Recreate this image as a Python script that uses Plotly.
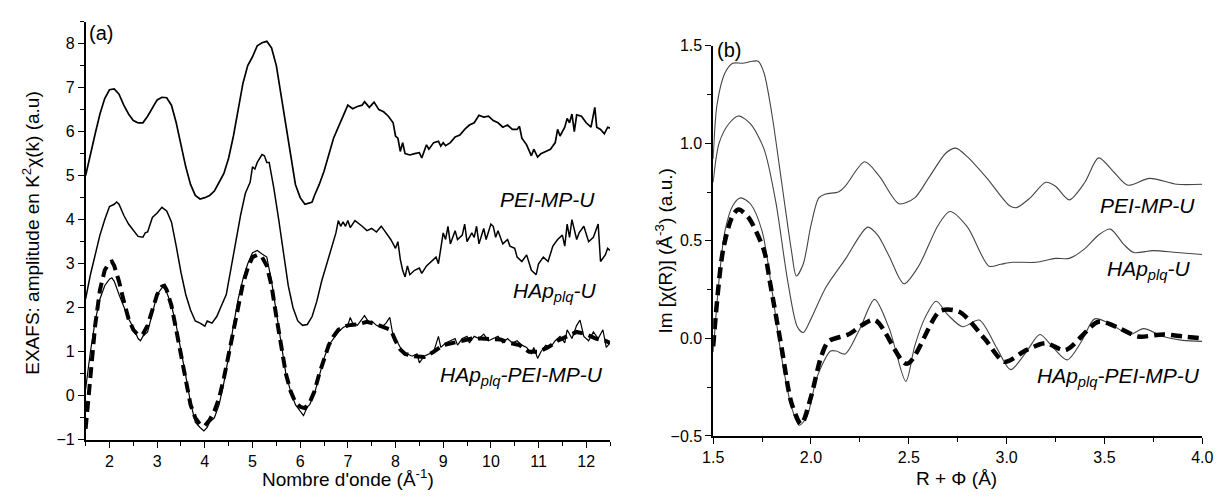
import plotly.graph_objects as go

# ---------------- k-space EXAFS, panel (a) ----------------
k_pei = [1.5, 1.6, 1.7, 1.8, 1.9, 2.0, 2.1, 2.2, 2.3, 2.4, 2.5, 2.6, 2.7, 2.8, 2.9, 3.0, 3.1, 3.2, 3.3, 3.4,
         3.5, 3.6, 3.7, 3.8, 3.9, 4.0, 4.1, 4.2, 4.3, 4.4, 4.5, 4.6, 4.7, 4.8, 4.9, 5.0, 5.1, 5.2, 5.3, 5.4,
         5.5, 5.6, 5.7, 5.8, 5.9, 6.0, 6.1, 6.2, 6.25, 6.3, 6.4, 6.5, 6.6, 6.7, 6.8, 6.9, 7.0, 7.1, 7.2, 7.3,
         7.35, 7.45, 7.55, 7.65, 7.75, 7.85, 7.95, 8.0, 8.05, 8.1, 8.15, 8.2, 8.3, 8.4, 8.5, 8.55, 8.65, 8.7,
         8.8, 8.9, 8.95, 9.0, 9.05, 9.15, 9.25, 9.35, 9.45, 9.55, 9.65, 9.75, 9.85, 9.95, 10.05, 10.15, 10.25,
         10.35, 10.45, 10.55, 10.6, 10.65, 10.75, 10.85, 10.9, 10.98, 11.05, 11.15, 11.25, 11.35, 11.4, 11.45,
         11.55, 11.6, 11.65, 11.7, 11.75, 11.8, 11.9, 12.0, 12.05, 12.1, 12.18, 12.22, 12.3, 12.38, 12.45, 12.5]
chi_pei = [5.0, 5.5, 5.95, 6.4, 6.75, 6.95, 6.97, 6.85, 6.6, 6.4, 6.25, 6.2, 6.2, 6.35, 6.55, 6.72, 6.78, 6.77, 6.6, 6.2,
           5.7, 5.2, 4.8, 4.55, 4.47, 4.5, 4.55, 4.65, 4.85, 5.05, 5.4, 5.9, 6.5, 7.1, 7.5, 7.7, 7.95, 8.02, 8.05, 7.9,
           7.5, 6.8, 6.1, 5.4, 4.8, 4.5, 4.35, 4.38, 4.4, 4.55, 4.8, 5.1, 5.5, 5.85, 6.1, 6.35, 6.6, 6.52, 6.57, 6.6,
           6.68, 6.55, 6.67, 6.5, 6.45, 6.35, 6.2, 5.9, 5.85, 5.55, 5.75, 5.5, 5.47, 5.5, 5.52, 5.4, 5.7, 5.6,
           5.75, 5.78, 5.67, 5.75, 5.68, 5.75, 5.88, 5.92, 6.05, 6.15, 6.2, 6.37, 6.33, 6.35, 6.25, 6.2, 6.1,
           6.15, 6.05, 6.05, 6.12, 5.85, 5.7, 5.45, 5.6, 5.42, 5.5, 5.55, 5.6, 5.75, 6.05, 5.9,
           6.1, 6.3, 6.2, 6.4, 6.0, 6.38, 6.35, 6.2, 6.15, 6.1, 6.55, 6.1, 6.05, 5.95, 6.1, 6.08]

k_hap = [1.5, 1.6, 1.7, 1.8, 1.9, 2.0, 2.1, 2.15, 2.2, 2.3, 2.4, 2.5, 2.6, 2.7, 2.75, 2.8, 2.9, 3.0, 3.1, 3.2,
         3.3, 3.4, 3.5, 3.6, 3.7, 3.8, 3.9, 4.0, 4.05, 4.15, 4.25, 4.35, 4.45, 4.55, 4.65, 4.75, 4.85, 4.95, 5.0,
         5.05, 5.1, 5.2, 5.25, 5.3, 5.35, 5.45, 5.55, 5.65, 5.75, 5.85, 5.95, 6.05, 6.15, 6.25, 6.35, 6.45, 6.55,
         6.65, 6.75, 6.8, 6.85, 6.9, 6.95, 7.0, 7.05, 7.15, 7.25, 7.3, 7.4, 7.5, 7.6, 7.7, 7.75, 7.8, 7.9, 8.0,
         8.05, 8.1, 8.15, 8.2, 8.25, 8.3, 8.4, 8.5, 8.55, 8.65, 8.75, 8.85, 8.9, 8.95, 9.0, 9.05, 9.1, 9.15,
         9.25, 9.3, 9.4, 9.45, 9.5, 9.6, 9.65, 9.7, 9.75, 9.85, 9.9, 10.0, 10.05, 10.1, 10.15, 10.25, 10.35,
         10.4, 10.5, 10.55, 10.65, 10.75, 10.85, 10.95, 11.0, 11.1, 11.2, 11.3, 11.4, 11.5, 11.55, 11.6, 11.65,
         11.7, 11.8, 11.85, 11.95, 12.05, 12.15, 12.25, 12.3, 12.4, 12.45, 12.5]
chi_hap = [2.2, 2.75, 3.2, 3.65, 4.0, 4.3, 4.35, 4.4, 4.35, 4.1, 3.9, 3.75, 3.62, 3.6, 3.7, 3.72, 4.05, 4.15, 4.28, 4.2,
           3.95, 3.4, 2.8, 2.3, 1.95, 1.7, 1.65, 1.58, 1.7, 1.65, 1.8, 2.05, 2.3, 2.9, 3.5, 4.1, 4.6, 4.85, 5.2,
           5.15, 5.3, 5.48, 5.45, 5.3, 5.3, 4.7, 4.0, 3.2, 2.5, 2.0, 1.7, 1.6, 1.62, 1.8, 2.15, 2.6, 2.95,
           3.35, 3.7, 3.98, 3.85, 3.95, 3.85, 3.98, 3.82, 3.98, 3.9, 3.85, 3.75, 3.8, 3.72, 3.85, 3.78, 3.7, 3.55, 3.35,
           3.5, 3.1, 2.85, 2.7, 2.95, 2.75, 2.85, 2.9, 2.78, 2.95, 3.05, 3.15, 3.0, 3.4, 3.7, 3.55, 3.85, 3.45,
           3.75, 3.55, 3.65, 3.9, 3.5, 3.7, 3.6, 3.85, 3.45, 3.8, 3.55, 3.9, 3.85, 3.6, 3.75, 3.45, 3.55,
           3.4, 3.35, 3.15, 3.05, 3.2, 2.85, 2.75, 3.0, 3.15, 3.05, 3.4, 3.55, 3.65, 3.4, 3.9, 3.6,
           4.0, 3.55, 3.7, 3.85, 3.5, 3.6, 3.9, 3.05, 3.2, 3.35, 3.3]

k_mix = [1.5, 1.6, 1.7, 1.8, 1.9, 2.0, 2.05, 2.1, 2.2, 2.3, 2.4, 2.5, 2.6, 2.65, 2.7, 2.8, 2.9, 3.0, 3.1, 3.15,
         3.2, 3.3, 3.4, 3.5, 3.6, 3.7, 3.8, 3.9, 3.98, 4.05, 4.1, 4.2, 4.3, 4.4, 4.5, 4.6, 4.7, 4.8, 4.9, 5.0,
         5.1, 5.2, 5.3, 5.4, 5.5, 5.6, 5.7, 5.8, 5.9, 6.0, 6.07, 6.15, 6.2, 6.3, 6.4, 6.5, 6.6, 6.7, 6.8, 6.9,
         7.0, 7.05, 7.1, 7.2, 7.3, 7.35, 7.45, 7.5, 7.6, 7.7, 7.8, 7.88, 7.95, 8.05, 8.15, 8.25, 8.35, 8.45,
         8.5, 8.6, 8.7, 8.8, 8.9, 8.95, 9.05, 9.15, 9.25, 9.3, 9.4, 9.5, 9.55, 9.65, 9.75, 9.85, 9.95, 10.05,
         10.15, 10.25, 10.35, 10.45, 10.55, 10.65, 10.75, 10.85, 10.9, 10.98, 11.05, 11.15, 11.25, 11.35,
         11.45, 11.55, 11.6, 11.7, 11.8, 11.87, 11.95, 12.05, 12.15, 12.25, 12.35, 12.42, 12.5]
chi_mix = [0.15, 1.0, 1.7, 2.2, 2.5, 2.65, 2.68, 2.6, 2.3, 2.0, 1.75, 1.55, 1.3, 1.25, 1.35, 1.45, 1.9, 2.3, 2.45, 2.5,
           2.35, 2.05, 1.6, 1.05, 0.45, -0.15, -0.6, -0.72, -0.8, -0.72, -0.6, -0.5, -0.2, 0.3, 0.9, 1.6, 2.2, 2.65, 3.0, 3.25,
           3.3, 3.22, 3.15, 2.6, 1.9, 1.1, 0.5, 0.1, -0.2, -0.35, -0.45, -0.25, -0.2, 0.05, 0.45, 0.85, 1.15, 1.3, 1.45, 1.55,
           1.6, 1.78, 1.65, 1.6, 1.75, 1.82, 1.65, 1.7, 1.6, 1.55, 1.65, 1.78, 1.35, 1.2, 1.0, 0.95, 0.9, 0.95,
           0.75, 0.9, 0.95, 1.0, 1.35, 1.1, 1.2, 1.25, 1.3, 1.15, 1.3, 1.35, 1.2, 1.35, 1.3, 1.4, 1.25, 1.3,
           1.35, 1.2, 1.3, 1.2, 1.25, 1.15, 1.1, 0.95, 1.1, 0.85, 1.0, 1.15, 1.1, 1.25,
           1.35, 1.2, 1.5, 1.3, 1.6, 1.72, 1.35, 1.25, 1.45, 1.3, 1.5, 1.1, 1.2]

k_fit = [1.5, 1.6, 1.7, 1.8, 1.9, 2.0, 2.05, 2.1, 2.2, 2.3, 2.4, 2.5, 2.6, 2.7, 2.8, 2.9, 3.0, 3.1, 3.15, 3.2,
         3.3, 3.4, 3.5, 3.6, 3.7, 3.8, 3.9, 4.0, 4.1, 4.2, 4.3, 4.4, 4.5, 4.6, 4.7, 4.8, 4.9, 5.0, 5.1, 5.2,
         5.3, 5.4, 5.5, 5.6, 5.7, 5.8, 5.9, 6.0, 6.1, 6.2, 6.3, 6.4, 6.5, 6.6, 6.7, 6.8, 6.9, 7.0, 7.2, 7.4,
         7.6, 7.8, 7.9, 8.0, 8.1, 8.2, 8.4, 8.6, 8.8, 9.0, 9.2, 9.4, 9.6, 9.8, 10.0, 10.2, 10.4, 10.6, 10.8,
         11.0, 11.2, 11.4, 11.6, 11.8, 12.0, 12.2, 12.4, 12.5]
chi_fit = [-0.75, 0.5, 1.6, 2.4, 2.85, 3.03, 3.05, 2.95, 2.6, 2.15, 1.75, 1.5, 1.38, 1.4, 1.6, 1.95, 2.3, 2.48, 2.5, 2.4,
           2.05, 1.5, 0.9, 0.3, -0.2, -0.5, -0.65, -0.68, -0.55, -0.35, -0.05, 0.4, 0.95, 1.55, 2.1, 2.55, 2.9, 3.15, 3.2, 3.15,
           2.95, 2.5, 1.8, 1.1, 0.5, 0.1, -0.15, -0.25, -0.28, -0.15, 0.1, 0.5, 0.85, 1.15, 1.35, 1.5, 1.55, 1.6, 1.62, 1.68,
           1.62, 1.55, 1.5, 1.25, 1.05, 0.95, 0.9, 0.88, 1.0, 1.15, 1.2, 1.25, 1.3, 1.3, 1.3, 1.28, 1.2, 1.15, 1.0,
           1.0, 1.1, 1.25, 1.35, 1.45, 1.4, 1.3, 1.25, 1.2]

# ---------------- Fourier transform (imaginary part), panel (b) ----------------
r_pei = [1.5, 1.52, 1.56, 1.6, 1.65, 1.7, 1.73, 1.76, 1.8, 1.85, 1.9, 1.925, 1.96, 2.0, 2.04, 2.075, 2.14,
         2.175, 2.275, 2.35, 2.45, 2.53, 2.6, 2.69, 2.74, 2.8, 2.9, 3.015, 3.05, 3.12, 3.2, 3.25, 3.32, 3.4,
         3.47, 3.55, 3.62, 3.73, 3.87, 4.0]
im_pei = [0.92, 1.2, 1.36, 1.41, 1.41, 1.42, 1.42, 1.36, 1.15, 0.8, 0.45, 0.32, 0.38, 0.58, 0.72, 0.74, 0.75,
          0.78, 0.905, 0.83, 0.69, 0.72, 0.82, 0.95, 0.975, 0.93, 0.82, 0.68, 0.67, 0.72, 0.8, 0.78, 0.71, 0.8,
          0.925, 0.85, 0.785, 0.82, 0.79, 0.79]

r_hap = [1.5, 1.53, 1.58, 1.63, 1.69, 1.76, 1.82, 1.88, 1.93, 1.96, 2.0, 2.075, 2.175, 2.29, 2.34, 2.4, 2.475,
         2.55, 2.65, 2.71, 2.8, 2.91, 2.97, 3.03, 3.15, 3.25, 3.32, 3.4, 3.47, 3.53, 3.6, 3.65, 3.75, 3.87, 4.0]
im_hap = [0.8, 1.0, 1.1, 1.14, 1.1, 0.97, 0.7, 0.3, 0.06, 0.03, 0.1, 0.26, 0.405, 0.57, 0.53, 0.42, 0.28,
          0.37, 0.58, 0.65, 0.57, 0.37, 0.38, 0.39, 0.39, 0.41, 0.41, 0.46, 0.53, 0.56, 0.48, 0.44, 0.45, 0.44, 0.43]

r_mix = [1.5, 1.53, 1.56, 1.6, 1.64, 1.69, 1.75, 1.8, 1.85, 1.9, 1.94, 1.98, 2.03, 2.1, 2.13, 2.175, 2.25,
         2.325, 2.4, 2.485, 2.53, 2.58, 2.64, 2.7, 2.775, 2.86, 2.95, 3.02, 3.1, 3.17, 3.24, 3.31, 3.38, 3.45,
         3.52, 3.63, 3.7, 3.8, 3.9, 4.0]
im_mix = [-0.07, 0.3, 0.55, 0.68, 0.72, 0.69, 0.55, 0.25, -0.1, -0.35, -0.445, -0.4, -0.2, -0.065, -0.065, -0.08, 0.05,
          0.2, 0.05, -0.22, -0.04, 0.1, 0.19, 0.12, 0.06, 0.094, -0.05, -0.16, -0.07, 0.02, -0.05, -0.11, -0.02, 0.1,
          0.08, 0.02, 0.05, 0.01, -0.01, -0.015]

r_fit = [1.5, 1.55, 1.6, 1.63, 1.68, 1.76, 1.79, 1.85, 1.9, 1.95, 2.0, 2.05, 2.09, 2.19, 2.325, 2.49, 2.66,
         2.76, 2.89, 2.99, 3.1, 3.2, 3.3, 3.47, 3.58, 3.67, 3.8, 3.9, 4.0]
im_fit = [-0.04, 0.45, 0.63, 0.66, 0.62, 0.45, 0.29, -0.05, -0.33, -0.44, -0.3, -0.1, -0.015, 0.02, 0.094, -0.13, 0.14,
          0.135, -0.005, -0.12, -0.06, -0.025, -0.06, 0.085, 0.05, 0.01, 0.02, 0.01, 0.0]

FONT = "Liberation Sans, Arial, sans-serif"
W, H = 1227, 501

fig = go.Figure()

# panel (a) traces
fig.add_trace(go.Scatter(x=k_pei, y=chi_pei, mode="lines", line=dict(color="black", width=1.7),
                         xaxis="x", yaxis="y", showlegend=False))
fig.add_trace(go.Scatter(x=k_hap, y=chi_hap, mode="lines", line=dict(color="black", width=1.5),
                         xaxis="x", yaxis="y", showlegend=False))
fig.add_trace(go.Scatter(x=k_mix, y=chi_mix, mode="lines", line=dict(color="black", width=1.2),
                         xaxis="x", yaxis="y", showlegend=False))
fig.add_trace(go.Scatter(x=k_fit, y=chi_fit, mode="lines", line=dict(color="black", width=4, dash="11px,6px"),
                         xaxis="x", yaxis="y", showlegend=False))

# panel (b) traces
fig.add_trace(go.Scatter(x=r_pei, y=im_pei, mode="lines", line=dict(color="#444444", width=1.1, shape="spline", smoothing=0.8),
                         xaxis="x2", yaxis="y2", showlegend=False))
fig.add_trace(go.Scatter(x=r_hap, y=im_hap, mode="lines", line=dict(color="#444444", width=1.1, shape="spline", smoothing=0.8),
                         xaxis="x2", yaxis="y2", showlegend=False))
fig.add_trace(go.Scatter(x=r_mix, y=im_mix, mode="lines", line=dict(color="#444444", width=1.1, shape="spline", smoothing=0.8),
                         xaxis="x2", yaxis="y2", showlegend=False))
fig.add_trace(go.Scatter(x=r_fit, y=im_fit, mode="lines",
                         line=dict(color="black", width=4.5, dash="11px,6px", shape="spline", smoothing=0.8),
                         xaxis="x2", yaxis="y2", showlegend=False))

axis_common = dict(showgrid=False, zeroline=False, showline=True, linecolor="black", linewidth=1.6,
                   ticks="outside", ticklen=6, tickwidth=1.4, tickcolor="black",
                   tickfont=dict(family=FONT, size=16, color="black"), mirror=False)

fig.update_layout(
    width=W, height=H,
    margin=dict(l=0, r=0, t=0, b=0),
    paper_bgcolor="white", plot_bgcolor="white",
    xaxis=dict(domain=[76 / W, 610 / W], range=[1.5, 12.5], anchor="y", dtick=1, tick0=0,
               minor=dict(dtick=0.5, tick0=0, ticklen=4, tickcolor="black", ticks="outside"), **axis_common),
    yaxis=dict(domain=[1 - 447 / H, 1 - 14 / H], range=[-1, 8.5], anchor="x", dtick=1, tick0=0,
               minor=dict(dtick=0.5, tick0=0, ticklen=4, tickcolor="black", ticks="outside"), **axis_common),
    xaxis2=dict(domain=[715 / W, 1213 / W], range=[1.5, 4.0], anchor="y2", dtick=0.5, tick0=0, tickformat=".1f",
                minor=dict(dtick=0.25, tick0=0, ticklen=4, tickcolor="black", ticks="outside"), **axis_common),
    yaxis2=dict(domain=[1 - 443 / H, 1 - 39 / H], range=[-0.5, 1.5], anchor="x2", dtick=0.5, tick0=0, tickformat=".1f",
                minor=dict(dtick=0.25, tick0=0, ticklen=4, tickcolor="black", ticks="outside"), **axis_common),
)

ann = []
title_font = dict(family=FONT, size=19, color="black")
label_font = dict(family=FONT, size=21, color="black")

# axis titles
ann.append(dict(text="EXAFS: amplitude en K<sup>2</sup>χ(k) (a.u)", x=20 / W, y=1 - 233 / H, xref="paper", yref="paper",
                textangle=-90, showarrow=False, font=title_font, xanchor="center", yanchor="middle"))
ann.append(dict(text="Nombre d'onde (Å<sup>-1</sup>)", x=343 / W, y=1 - 487 / H, xref="paper", yref="paper",
                showarrow=False, font=title_font, xanchor="center", yanchor="middle"))
ann.append(dict(text="Im [χ(R)] (Å<sup>-3</sup>) (a.u.)", x=665 / W, y=1 - 252 / H, xref="paper", yref="paper",
                textangle=-90, showarrow=False, font=title_font, xanchor="center", yanchor="middle"))
ann.append(dict(text="R + Φ (Å)", x=963 / W, y=1 - 487 / H, xref="paper", yref="paper",
                showarrow=False, font=title_font, xanchor="center", yanchor="middle"))

# panel letters
ann.append(dict(text="(a)", x=77 / W, y=1 - 26 / H, xref="paper", yref="paper", showarrow=False,
                font=dict(family=FONT, size=20, color="black"), xanchor="left", yanchor="middle"))
ann.append(dict(text="(b)", x=717 / W, y=1 - 43 / H, xref="paper", yref="paper", showarrow=False,
                font=dict(family=FONT, size=20, color="black"), xanchor="left", yanchor="middle"))

# sample labels, panel (a)
ann.append(dict(text="<i>PEI-MP-U</i>", x=12.22, y=4.46, xref="x", yref="y", showarrow=False,
                font=label_font, xanchor="right", yanchor="middle"))
ann.append(dict(text="<i>HAp<sub>plq</sub>-U</i>", x=12.24, y=2.35, xref="x", yref="y", showarrow=False,
                font=label_font, xanchor="right", yanchor="middle"))
ann.append(dict(text="<i>HAp<sub>plq</sub>-PEI-MP-U</i>", x=12.4, y=0.45, xref="x", yref="y", showarrow=False,
                font=label_font, xanchor="right", yanchor="middle"))

# sample labels, panel (b)
ann.append(dict(text="<i>PEI-MP-U</i>", x=3.975, y=0.683, xref="x2", yref="y2", showarrow=False,
                font=label_font, xanchor="right", yanchor="middle"))
ann.append(dict(text="<i>HAp<sub>plq</sub>-U</i>", x=3.95, y=0.35, xref="x2", yref="y2", showarrow=False,
                font=label_font, xanchor="right", yanchor="middle"))
ann.append(dict(text="<i>HAp<sub>plq</sub>-PEI-MP-U</i>", x=4.0, y=-0.2, xref="x2", yref="y2", showarrow=False,
                font=label_font, xanchor="right", yanchor="middle"))

fig.update_layout(annotations=ann)
fig.write_html("out.html")
